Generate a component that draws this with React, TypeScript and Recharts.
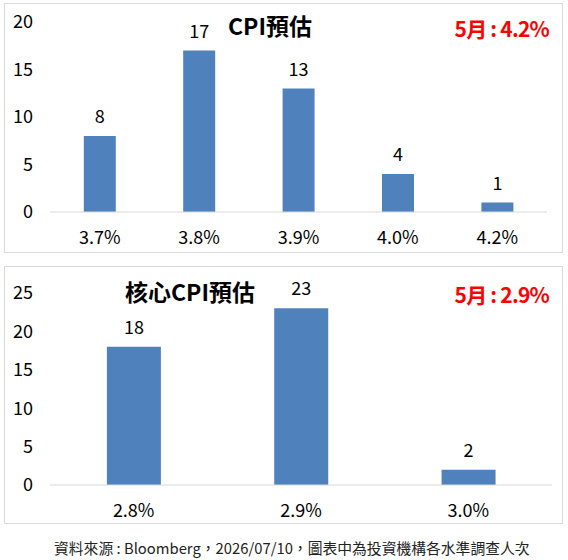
import React from 'react';
import { BarChart, Bar, XAxis, YAxis, LabelList } from 'recharts';

const cpiCategories = ['3.7%', '3.8%', '3.9%', '4.0%', '4.2%'];
const cpiCounts = [8, 17, 13, 4, 1];
const cpiTicks = [0, 5, 10, 15, 20];

const coreCategories = ['2.8%', '2.9%', '3.0%'];
const coreCounts = [18, 23, 2];
const coreTicks = [0, 5, 10, 15, 20, 25];

const FONT = "'Noto Sans CJK TC', 'Noto Sans', sans-serif";
const BAR_COLOR = '#4f81bd';
const BORDER = '#d9d9d9';

interface PanelProps {
  categories: string[];
  counts: number[];
  ticks: number[];
  top: number;
  height: number;
  margin: { top: number; right: number; bottom: number; left: number };
}

const Panel: React.FC<PanelProps> = ({ categories, counts, ticks, top, height, margin }) => {
  const data = categories.map((c, i) => ({ name: c, value: counts[i] }));
  return (
    <div style={{ position: 'absolute', left: 0, top }}>
      <BarChart width={568} height={height} data={data} margin={margin} barCategoryGap="34%">
        <XAxis
          dataKey="name"
          height={30}
          tickLine={false}
          tickSize={0}
          tickMargin={19}
          axisLine={{ stroke: BORDER }}
          tick={{ fill: '#000', fontSize: 18, fontFamily: FONT }}
          interval={0}
        />
        <YAxis
          width={50}
          domain={[0, ticks[ticks.length - 1]]}
          ticks={ticks}
          tickLine={false}
          axisLine={false}
          tickSize={0}
          tickMargin={17}
          tick={{ fill: '#000', fontSize: 18, fontFamily: FONT }}
        />
        <Bar dataKey="value" fill={BAR_COLOR} isAnimationActive={false}>
          <LabelList
            dataKey="value"
            position="top"
            offset={13}
            style={{ fill: '#000', fontSize: 18, fontFamily: FONT }}
          />
        </Bar>
      </BarChart>
    </div>
  );
};

const titleStyle: React.CSSProperties = {
  position: 'absolute',
  fontFamily: FONT,
  fontSize: 23,
  fontWeight: 700,
  lineHeight: 1,
  whiteSpace: 'nowrap',
};

const redStyle: React.CSSProperties = {
  ...titleStyle,
  right: 19,
  color: '#ff0000',
  fontSize: 21,
  letterSpacing: -0.8,
};

export default function App() {
  return (
    <div
      style={{
        position: 'absolute',
        left: 0,
        top: 0,
        width: 568,
        height: 560,
        background: '#fff',
        fontFamily: FONT,
      }}
    >
      <div style={{ position: 'absolute', left: 4, top: 3, width: 557, height: 248, border: `1px solid ${BORDER}` }} />
      <div style={{ position: 'absolute', left: 4, top: 266, width: 557, height: 256, border: `1px solid ${BORDER}` }} />

      <Panel
        categories={cpiCategories}
        counts={cpiCounts}
        ticks={cpiTicks}
        top={0}
        height={260}
        margin={{ top: 22, right: 21, bottom: 18, left: 0 }}
      />
      <Panel
        categories={coreCategories}
        counts={coreCounts}
        ticks={coreTicks}
        top={260}
        height={270}
        margin={{ top: 33, right: 16, bottom: 15, left: 0 }}
      />

      <div style={{ ...titleStyle, left: 228, top: 14, color: '#000' }}>CPI預估</div>
      <div style={{ ...redStyle, top: 18 }}>5月 : 4.2%</div>

      <div style={{ ...titleStyle, left: 125, top: 280, color: '#000' }}>核心CPI預估</div>
      <div style={{ ...redStyle, top: 284 }}>5月 : 2.9%</div>

      <div
        style={{
          position: 'absolute',
          left: 54,
          top: 541,
          fontSize: 14.8,
          lineHeight: 1,
          color: '#222',
          whiteSpace: 'nowrap',
        }}
      >
        資料來源 : Bloomberg，2026/07/10，圖表中為投資機構各水準調查人次
      </div>
    </div>
  );
}
